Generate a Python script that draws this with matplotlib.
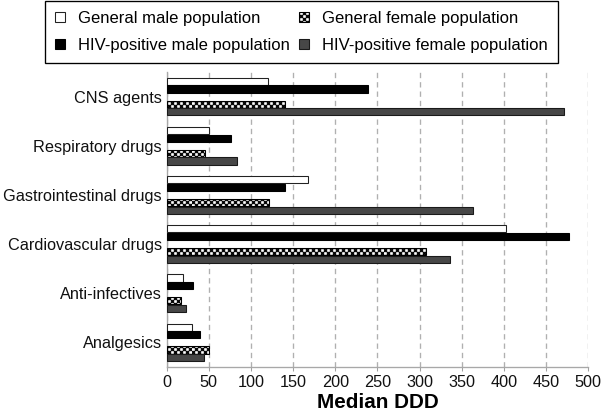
import numpy as np
import matplotlib
matplotlib.use("Agg")
import matplotlib.pyplot as plt
from matplotlib import hatch as mhatch
from matplotlib.path import Path

# ---------------- data ----------------
categories = ["CNS agents", "Respiratory drugs", "Gastrointestinal drugs",
              "Cardiovascular drugs", "Anti-infectives", "Analgesics"]
general_male = [120, 50, 168, 403, 20, 30]
hiv_male = [239, 77, 140, 477, 32, 40]
general_female = [140, 46, 122, 308, 17, 50]
hiv_female = [471, 84, 363, 336, 23, 45]
series_labels = ["General male population", "HIV-positive male population",
                 "General female population", "HIV-positive female population"]
x_ticks = [0, 50, 100, 150, 200, 250, 300, 350, 400, 450, 500]
x_label = "Median DDD"


# ---------------- custom checkerboard hatch (uses 'O') ----------------
class CheckerHatch(mhatch.HatchPatternBase):
    def __init__(self, hatch, density):
        self.n = hatch.count('O') * 8
        self.num_vertices = (self.n * self.n // 2) * 5

    def set_vertices_and_codes(self, vertices, codes):
        n = self.n
        s = 1.0 / n
        inset = s * 0.1
        verts = []
        cds = []
        for i in range(n):
            for j in range(n):
                if (i + j) % 2 == 0:
                    x0 = i * s + inset
                    y0 = j * s + inset
                    x1 = (i + 1) * s - inset
                    y1 = (j + 1) * s - inset
                    verts += [(x0, y0), (x1, y0), (x1, y1), (x0, y1), (x0, y0)]
                    cds += [Path.MOVETO, Path.LINETO, Path.LINETO,
                            Path.LINETO, Path.CLOSEPOLY]
        vertices[:] = np.array(verts)
        codes[:] = np.array(cds, dtype=Path.code_type)


mhatch._hatch_types[:] = [t for t in mhatch._hatch_types
                          if t.__name__ != "LargeCircles"] + [CheckerHatch]

import warnings
warnings.filterwarnings("ignore")

plt.rcParams['font.family'] = ['Liberation Sans', 'DejaVu Sans']
plt.rcParams['hatch.linewidth'] = 0.7

DPI = 96
FS = 12.5
TFS = 12.2
fig = plt.figure(figsize=(602 / DPI, 413 / DPI), dpi=DPI)
ax = fig.add_axes([166.5 / 602, 1 - 367 / 413, (588.3 - 166.5) / 602, (367 - 72) / 413])

y = np.arange(len(categories))
slot = 0.155
h = 0.145

b1 = ax.barh(y - 2 * slot, general_male, height=h, color="white",
             edgecolor="#222222", linewidth=0.8, label=series_labels[0], zorder=3)
b2 = ax.barh(y - slot, hiv_male, height=h, color="black",
             edgecolor="black", linewidth=0.8, label=series_labels[1], zorder=3)
b3 = ax.barh(y + slot, general_female, height=h, color="white",
             edgecolor="black", hatch="OOOO", linewidth=0.8,
             label=series_labels[2], zorder=3)
b4 = ax.barh(y + 2 * slot, hiv_female, height=h, color="#707070",
             edgecolor="#1a1a1a", hatch="||||||||", linewidth=0.8,
             label=series_labels[3], zorder=3)

ax.set_ylim(len(categories) - 0.5, -0.5)
ax.set_xlim(0, 500)
ax.set_yticks(y)
ax.set_yticklabels(categories, fontsize=TFS, color="#111111")
ax.set_xticks(x_ticks)
ax.set_xticklabels([str(t) for t in x_ticks], fontsize=TFS, color="#111111")
ax.tick_params(axis='y', length=0, pad=3.5)
ax.tick_params(axis='x', length=3, color="#a0a0a0", pad=3)
ax.set_xlabel(x_label, fontsize=15.5, fontweight="bold", labelpad=2)

for sp in ["top", "right"]:
    ax.spines[sp].set_visible(False)
for sp in ["left", "bottom"]:
    ax.spines[sp].set_color("#a8a8a8")
    ax.spines[sp].set_linewidth(1.0)

ax.xaxis.grid(True, linestyle=(0, (4, 3)), color="#b0b0b0", linewidth=1.0, zorder=0)
ax.set_axisbelow(True)

handles = [b1, b2, b3, b4]
labels = series_labels
leg = fig.legend(handles, labels, loc="upper left",
                 bbox_to_anchor=(45 / 602, 1 - 1 / 413), bbox_transform=fig.transFigure,
                 ncol=2, fontsize=FS, frameon=True, fancybox=False,
                 edgecolor="black", framealpha=1, borderaxespad=0,
                 handlelength=0.6, handleheight=0.6, handletextpad=0.75,
                 columnspacing=0.6, labelspacing=0.72, borderpad=0.6)
leg.get_frame().set_linewidth(1.0)

fig.savefig("out.png", dpi=DPI)
